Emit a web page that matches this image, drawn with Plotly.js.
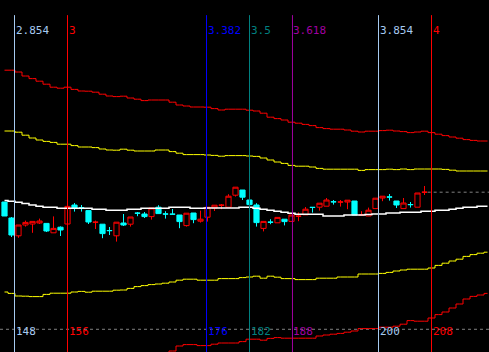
<!DOCTYPE html>
<html>
<head>
<meta charset="utf-8">
<script src="https://cdn.plot.ly/plotly-3.0.1.min.js"></script>
<style>html,body{margin:0;padding:0;background:#000;}#chart{width:489px;height:352px;}</style>
</head>
<body>
<div id="chart"></div>
<script>
// ---- candles (bar index 0..60) ----
const candleDir = ['d','d','u','u','u','u','d','u','d','u','d','d','d','u','d','d','u','d','u','d','d','u','d','d','d','d','u','d','u','u','u','u','u','u','d','d','d','u','d','u','d','u','u','u','d','u','u','d','u','u','d','u','u','u','u','d','d','u','d','u','u'];
const openP  = [9.90,9.10,8.21,8.75,8.80,8.85,8.83,8.36,8.64,8.80,9.75,9.62,9.47,8.89,8.79,8.47,8.21,8.85,8.79,9.34,9.30,9.17,9.64,9.30,9.29,9.25,8.72,9.35,8.94,9.14,9.60,9.74,9.64,10.24,10.50,10.00,9.75,8.58,8.89,8.86,9.04,8.93,9.19,9.26,9.63,9.64,9.69,9.91,9.90,9.90,9.95,9.25,9.20,9.57,10.10,10.15,9.95,9.57,9.77,9.64,10.39];
const highP  = [9.90,9.15,8.75,8.97,8.93,9.07,8.83,9.18,8.68,9.68,9.85,9.75,9.47,8.97,8.79,8.65,8.89,9.30,9.15,9.40,9.40,9.60,9.74,9.44,9.55,9.25,9.34,9.35,9.47,9.64,9.74,9.80,10.29,10.64,10.50,10.00,9.84,8.93,9.04,9.13,9.04,9.25,9.38,9.65,9.63,9.84,10.10,10.00,10.00,9.99,9.95,9.44,9.62,10.09,10.19,10.30,9.95,10.10,9.90,10.35,10.70];
const lowP   = [9.20,8.15,8.11,8.67,8.36,8.80,8.40,8.36,8.20,8.80,9.42,9.42,8.80,8.55,8.09,8.25,7.92,8.70,8.67,9.19,9.10,9.02,9.32,9.07,9.29,8.59,8.67,8.84,8.87,8.92,9.45,9.54,9.64,10.17,10.00,9.70,8.67,8.43,8.79,8.86,8.73,8.93,8.94,9.26,9.37,9.47,9.69,9.77,9.67,9.54,9.25,9.25,9.20,9.57,9.94,9.97,9.60,9.57,9.62,9.64,10.25];
const closeP = [9.20,8.25,8.75,8.88,8.93,8.95,8.45,8.58,8.50,9.68,9.60,9.62,8.90,8.89,8.32,8.47,8.89,8.75,9.15,9.34,9.17,9.60,9.32,9.30,9.29,8.92,9.34,9.02,9.04,9.64,9.74,9.74,10.19,10.64,10.14,9.77,8.87,8.93,8.89,9.13,8.92,9.25,9.19,9.54,9.63,9.84,10.00,9.91,9.90,9.99,9.25,9.25,9.49,10.09,10.19,10.15,9.75,9.85,9.77,10.35,10.39];

// ---- bands (bar index 0..69) ----
const upperOuter = [16.49,16.49,16.40,16.20,16.07,15.94,15.79,15.64,15.59,15.64,15.53,15.45,15.44,15.39,15.29,15.20,15.17,15.19,15.10,15.04,14.97,15.00,15.00,15.00,14.89,14.75,14.70,14.65,14.65,14.64,14.57,14.50,14.54,14.54,14.54,14.49,14.45,14.34,14.14,14.07,14.00,13.89,13.84,13.78,13.72,13.62,13.57,13.54,13.54,13.50,13.44,13.40,13.44,13.44,13.47,13.49,13.45,13.42,13.37,13.40,13.44,13.37,13.29,13.22,13.15,13.09,13.02,12.98,12.95,12.95];
const upperInner = [13.45,13.45,13.39,13.24,13.10,13.00,12.93,12.88,12.79,12.79,12.72,12.65,12.65,12.62,12.55,12.50,12.49,12.54,12.49,12.45,12.45,12.45,12.50,12.50,12.42,12.34,12.27,12.27,12.27,12.25,12.23,12.19,12.22,12.22,12.22,12.20,12.18,12.10,12.00,11.90,11.83,11.73,11.69,11.69,11.65,11.58,11.54,11.54,11.54,11.54,11.54,11.48,11.52,11.52,11.52,11.54,11.52,11.55,11.52,11.55,11.55,11.55,11.55,11.53,11.49,11.45,11.45,11.45,11.45,11.45];
const midLine    = [9.98,9.94,9.89,9.82,9.75,9.69,9.64,9.64,9.59,9.59,9.59,9.59,9.59,9.54,9.54,9.49,9.49,9.49,9.54,9.54,9.59,9.59,9.59,9.59,9.64,9.64,9.64,9.59,9.59,9.60,9.60,9.60,9.60,9.60,9.64,9.64,9.59,9.54,9.49,9.44,9.39,9.34,9.29,9.29,9.29,9.29,9.20,9.20,9.20,9.25,9.25,9.25,9.28,9.30,9.30,9.35,9.35,9.39,9.39,9.39,9.44,9.44,9.49,9.49,9.54,9.59,9.64,9.64,9.69,9.69];
const lowerInner = [5.40,5.33,5.20,5.19,5.17,5.17,5.28,5.34,5.34,5.34,5.40,5.43,5.39,5.44,5.44,5.44,5.49,5.50,5.58,5.67,5.72,5.77,5.80,5.84,5.90,5.99,6.04,6.04,5.99,5.99,5.99,6.07,6.07,6.07,6.12,6.15,6.19,6.09,6.19,6.14,6.07,6.07,6.02,6.02,6.02,6.09,6.09,6.09,6.15,6.15,6.15,6.30,6.30,6.30,6.33,6.38,6.45,6.50,6.54,6.54,6.54,6.60,6.73,6.84,6.95,7.04,7.18,7.27,7.34,7.39];
const lowerOuterStart = 23;
const lowerOuter = [2.20,2.45,2.70,2.77,2.77,2.72,2.72,2.79,2.85,2.85,2.85,2.92,3.04,3.04,2.99,3.08,3.12,3.09,3.09,3.09,3.09,3.09,3.20,3.25,3.29,3.33,3.39,3.45,3.57,3.57,3.57,3.64,3.64,3.69,3.79,3.97,3.94,3.94,4.10,4.27,4.40,4.60,4.80,5.05,5.18,5.25,5.33];

// ---- Fibonacci time lines ----
const fibBar   = [1.43, 9.0, 28.86, 35.0, 41.14, 53.43, 61.0];
const fibRatio = ['2.854','3','3.382','3.5','3.618','3.854','4'];
const fibCount = ['148','156','176','182','188','200','208'];
const fibColor = ['#a6caf0','#ff0000','#0000ff','#008080','#a000a0','#a6caf0','#ff0000'];

// ---- build ----
const RED = '#ff0000', CYAN = '#00ffff';
const idx = openP.map((_, i) => i);
function pick(arr, d) { return arr.filter((_, i) => candleDir[i] === d); }
function candleTrace(d, color, fill) {
  return {
    type: 'candlestick',
    x: pick(idx, d), open: pick(openP, d), high: pick(highP, d), low: pick(lowP, d), close: pick(closeP, d),
    increasing: {line: {color: color, width: 1}, fillcolor: fill},
    decreasing: {line: {color: color, width: 1}, fillcolor: fill},
    hoverinfo: 'skip', showlegend: false
  };
}
const bandX = upperOuter.map((_, i) => i);
function band(y, color, width, x) {
  return {type: 'scatter', mode: 'lines', x: x || bandX, y: y, line: {color: color, width: width, shape: 'hvh'},
          hoverinfo: 'skip', showlegend: false};
}
const lowerOuterX = lowerOuter.map((_, i) => i + lowerOuterStart);

const data = [
  band(upperOuter, RED, 1),
  band(upperInner, '#ffff00', 1),
  band(midLine, '#ffffff', 1.5),
  band(lowerInner, '#ffff00', 1),
  band(lowerOuter, RED, 1, lowerOuterX),
  candleTrace('u', RED, '#000000'),
  candleTrace('d', CYAN, CYAN)
];

const xMin = -0.643, xMax = 69.214;
const lastIdx = closeP.length - 1;
const shapes = [];
const annotations = [];
fibBar.forEach((b, i) => {
  shapes.push({type: 'line', xref: 'x', yref: 'paper', x0: b, x1: b, y0: 0, y1: 0.957,
               line: {color: fibColor[i], width: 1}});
  annotations.push({x: b, y: 0.912, xref: 'x', yref: 'paper', text: fibRatio[i], showarrow: false,
                    xanchor: 'left', yanchor: 'middle', xshift: -1,
                    font: {family: 'DejaVu Sans Mono, monospace', size: 11, color: fibColor[i]}});
  annotations.push({x: b, y: 0.057, xref: 'x', yref: 'paper', text: fibCount[i], showarrow: false,
                    xanchor: 'left', yanchor: 'middle', xshift: -1,
                    font: {family: 'DejaVu Sans Mono, monospace', size: 11, color: fibColor[i]}});
});
// bottom dashed reference line
shapes.push({type: 'line', xref: 'paper', yref: 'paper', x0: 0, x1: 1, y0: 0.0645, y1: 0.0645,
             line: {color: '#808080', width: 1, dash: '3px,3px'}, layer: 'below'});
// last price dashed line
shapes.push({type: 'line', xref: 'x', yref: 'y', x0: lastIdx + 0.45, x1: xMax, y0: closeP[lastIdx], y1: closeP[lastIdx],
             line: {color: '#808080', width: 1, dash: '3px,3px'}});

const layout = {
  width: 489, height: 352,
  margin: {l: 0, r: 0, t: 0, b: 0, pad: 0},
  paper_bgcolor: '#000000', plot_bgcolor: '#000000',
  showlegend: false,
  xaxis: {range: [xMin, xMax], visible: false, rangeslider: {visible: false}, fixedrange: true},
  yaxis: {range: [2.4, 20], visible: false, fixedrange: true},
  boxgap: 0.26,
  boxgroupgap: 0,
  shapes: shapes,
  annotations: annotations
};
Plotly.newPlot('chart', data, layout, {displayModeBar: false, staticPlot: true});
</script>
</body>
</html>
